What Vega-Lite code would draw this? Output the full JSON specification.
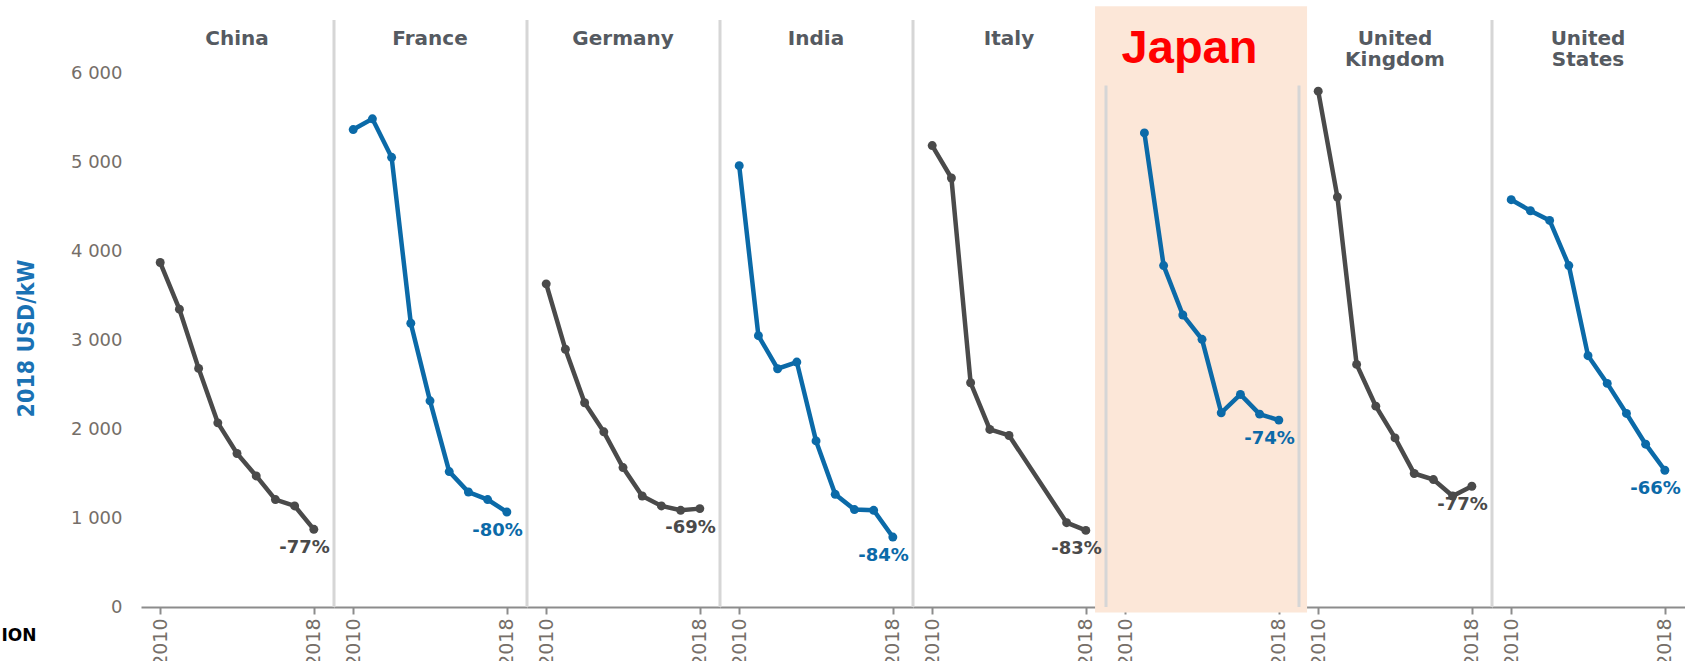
{
  "$schema": "https://vega.github.io/schema/vega-lite/v6.json",
  "padding": {"left": 1, "top": 6, "right": 0, "bottom": 0},
  "background": "white",
  "bounds": "flush",
  "config": {"view": {"stroke": null}, "font": "DejaVu Sans", "facet": {"spacing": 0}},
  "title": {"text": "ION", "orient": "bottom", "anchor": "start", "frame": "bounds", "fontSize": 17, "fontWeight": "bold", "color": "#000000", "font": "DejaVu Sans", "offset": -38, "dx": -14},
  "data": {"values": [
    {"kind": "name", "c": "China", "name": "China"},
    {"kind": "name", "c": "France", "name": "France"},
    {"kind": "name", "c": "Germany", "name": "Germany"},
    {"kind": "name", "c": "India", "name": "India"},
    {"kind": "name", "c": "Italy", "name": "Italy"},
    {"kind": "name", "c": "Japan", "name": "Japan"},
    {"kind": "name", "c": "United Kingdom", "name": "United\nKingdom"},
    {"kind": "name", "c": "United States", "name": "United\nStates"},
    {"kind": "pt", "c": "China", "year": 2010, "value": 3876},
    {"kind": "pt", "c": "China", "year": 2011, "value": 3351},
    {"kind": "pt", "c": "China", "year": 2012, "value": 2685},
    {"kind": "pt", "c": "China", "year": 2013, "value": 2072},
    {"kind": "pt", "c": "China", "year": 2014, "value": 1727},
    {"kind": "pt", "c": "China", "year": 2015, "value": 1475},
    {"kind": "pt", "c": "China", "year": 2016, "value": 1209},
    {"kind": "pt", "c": "China", "year": 2017, "value": 1137},
    {"kind": "pt", "c": "China", "year": 2018, "value": 874, "pct": "-77%"},
    {"kind": "pt", "c": "France", "year": 2010, "value": 5372},
    {"kind": "pt", "c": "France", "year": 2011, "value": 5493},
    {"kind": "pt", "c": "France", "year": 2012, "value": 5060},
    {"kind": "pt", "c": "France", "year": 2013, "value": 3193},
    {"kind": "pt", "c": "France", "year": 2014, "value": 2320},
    {"kind": "pt", "c": "France", "year": 2015, "value": 1524},
    {"kind": "pt", "c": "France", "year": 2016, "value": 1294},
    {"kind": "pt", "c": "France", "year": 2017, "value": 1209},
    {"kind": "pt", "c": "France", "year": 2018, "value": 1069, "pct": "-80%"},
    {"kind": "pt", "c": "Germany", "year": 2010, "value": 3636},
    {"kind": "pt", "c": "Germany", "year": 2011, "value": 2900},
    {"kind": "pt", "c": "Germany", "year": 2012, "value": 2298},
    {"kind": "pt", "c": "Germany", "year": 2013, "value": 1971},
    {"kind": "pt", "c": "Germany", "year": 2014, "value": 1569},
    {"kind": "pt", "c": "Germany", "year": 2015, "value": 1249},
    {"kind": "pt", "c": "Germany", "year": 2016, "value": 1137},
    {"kind": "pt", "c": "Germany", "year": 2017, "value": 1088},
    {"kind": "pt", "c": "Germany", "year": 2018, "value": 1107, "pct": "-69%"},
    {"kind": "pt", "c": "India", "year": 2010, "value": 4966},
    {"kind": "pt", "c": "India", "year": 2011, "value": 3053},
    {"kind": "pt", "c": "India", "year": 2012, "value": 2681},
    {"kind": "pt", "c": "India", "year": 2013, "value": 2756},
    {"kind": "pt", "c": "India", "year": 2014, "value": 1869},
    {"kind": "pt", "c": "India", "year": 2015, "value": 1268},
    {"kind": "pt", "c": "India", "year": 2016, "value": 1096},
    {"kind": "pt", "c": "India", "year": 2017, "value": 1088},
    {"kind": "pt", "c": "India", "year": 2018, "value": 787, "pct": "-84%"},
    {"kind": "pt", "c": "Italy", "year": 2010, "value": 5192},
    {"kind": "pt", "c": "Italy", "year": 2011, "value": 4827},
    {"kind": "pt", "c": "Italy", "year": 2012, "value": 2523},
    {"kind": "pt", "c": "Italy", "year": 2013, "value": 1998},
    {"kind": "pt", "c": "Italy", "year": 2014, "value": 1930},
    {"kind": "pt", "c": "Italy", "year": 2017, "value": 949},
    {"kind": "pt", "c": "Italy", "year": 2018, "value": 862, "pct": "-83%"},
    {"kind": "pt", "c": "Japan", "year": 2011, "value": 5334},
    {"kind": "pt", "c": "Japan", "year": 2012, "value": 3842},
    {"kind": "pt", "c": "Japan", "year": 2013, "value": 3286},
    {"kind": "pt", "c": "Japan", "year": 2014, "value": 3012},
    {"kind": "pt", "c": "Japan", "year": 2015, "value": 2185},
    {"kind": "pt", "c": "Japan", "year": 2016, "value": 2392},
    {"kind": "pt", "c": "Japan", "year": 2017, "value": 2170},
    {"kind": "pt", "c": "Japan", "year": 2018, "value": 2103, "pct": "-74%"},
    {"kind": "pt", "c": "United Kingdom", "year": 2010, "value": 5804},
    {"kind": "pt", "c": "United Kingdom", "year": 2011, "value": 4613},
    {"kind": "pt", "c": "United Kingdom", "year": 2012, "value": 2730},
    {"kind": "pt", "c": "United Kingdom", "year": 2013, "value": 2260},
    {"kind": "pt", "c": "United Kingdom", "year": 2014, "value": 1903},
    {"kind": "pt", "c": "United Kingdom", "year": 2015, "value": 1502},
    {"kind": "pt", "c": "United Kingdom", "year": 2016, "value": 1434},
    {"kind": "pt", "c": "United Kingdom", "year": 2017, "value": 1249},
    {"kind": "pt", "c": "United Kingdom", "year": 2018, "value": 1359, "pct": "-77%"},
    {"kind": "pt", "c": "United States", "year": 2010, "value": 4583},
    {"kind": "pt", "c": "United States", "year": 2011, "value": 4459},
    {"kind": "pt", "c": "United States", "year": 2012, "value": 4350},
    {"kind": "pt", "c": "United States", "year": 2013, "value": 3842},
    {"kind": "pt", "c": "United States", "year": 2014, "value": 2828},
    {"kind": "pt", "c": "United States", "year": 2015, "value": 2516},
    {"kind": "pt", "c": "United States", "year": 2016, "value": 2178},
    {"kind": "pt", "c": "United States", "year": 2017, "value": 1832},
    {"kind": "pt", "c": "United States", "year": 2018, "value": 1539, "pct": "-66%"}
  ]},
  "facet": {"column": {"field": "c", "type": "nominal", "sort": ["China", "France", "Germany", "India", "Italy", "Japan", "United Kingdom", "United States"], "header": {"title": null, "labels": false}}},
  "spacing": 0,
  "resolve": {"scale": {"x": "shared", "y": "shared"}},
  "spec": {
    "width": 193,
    "height": 587,
    "layer": [
      {
        "transform": [{"filter": "datum.kind == 'name' && datum.c == 'Japan'"}],
        "mark": {"type": "rect", "fill": "#fce7d8"},
        "encoding": {
          "x": {"datum": 2009, "type": "quantitative"},
          "x2": {"datum": 2019.05},
          "y": {"datum": -62, "type": "quantitative"},
          "y2": {"datum": 6761}
        }
      },
      {
        "transform": [{"filter": "datum.kind == 'name' && datum.c == 'Italy'"}],
        "mark": {"type": "rect", "fill": "#fce7d8"},
        "encoding": {
          "x": {"datum": 2018.48, "type": "quantitative"},
          "x2": {"datum": 2019.05},
          "y": {"datum": -62, "type": "quantitative"},
          "y2": {"datum": 6761}
        }
      },
      {
        "transform": [{"filter": "datum.kind == 'name' && datum.c == 'United Kingdom'"}],
        "mark": {"type": "rect", "fill": "#fce7d8"},
        "encoding": {
          "x": {"datum": 2009, "type": "quantitative"},
          "x2": {"datum": 2009.42},
          "y": {"datum": -62, "type": "quantitative"},
          "y2": {"datum": 6761}
        }
      },
      {
        "transform": [{"filter": "datum.kind == 'name' && indexof(['China', 'Japan', 'United Kingdom'], datum.c) < 0"}],
        "mark": {"type": "rule", "color": "#d6d6d6", "strokeWidth": 3},
        "encoding": {
          "x": {"datum": 2009, "type": "quantitative"},
          "y": {"datum": 0, "type": "quantitative"},
          "y2": {"datum": 6605}
        }
      },
      {
        "transform": [{"filter": "datum.kind == 'name' && (datum.c == 'Japan' || datum.c == 'United Kingdom')"}],
        "mark": {"type": "rule", "color": "#d6d6d6", "strokeWidth": 3},
        "encoding": {
          "x": {"datum": 2009, "type": "quantitative"},
          "y": {"datum": 0, "type": "quantitative"},
          "y2": {"datum": 5868}
        }
      },
      {
        "transform": [{"filter": "datum.kind == 'pt'"}],
        "mark": {"type": "line", "strokeWidth": 4.5},
        "encoding": {
          "x": {"field": "year", "type": "quantitative", "scale": {"domain": [2009, 2019.05], "nice": false, "zero": false},
            "axis": {"values": [2010, 2018], "format": "d", "labelAngle": -90, "labelFontSize": 19, "labelColor": "#756e68", "labelFont": "DejaVu Sans", "domainColor": "#8c8c8c", "domainWidth": 2, "tickColor": "#8c8c8c", "tickWidth": 2, "tickSize": 7, "labelPadding": 4, "title": null, "grid": false}},
          "y": {"field": "value", "type": "quantitative", "scale": {"domain": [0, 6605], "nice": false},
            "axis": {"values": [0, 1000, 2000, 3000, 4000, 5000, 6000], "labelExpr": "replace(format(datum.value, ','), ',', ' ')", "domain": false, "ticks": false, "labelPadding": 19, "labelFontSize": 18, "labelColor": "#756e68", "labelFont": "DejaVu Sans", "gridColor": "#e6e6e6", "gridWidth": 2, "title": "2018 USD/kW", "titleFont": "DejaVu Sans Condensed", "titleFontSize": 23, "titleFontWeight": "bold", "titleColor": "#1a72b4", "titlePadding": 32, "titleY": 318}},
          "color": {"field": "c", "type": "nominal", "legend": null,
            "scale": {"domain": ["China", "France", "Germany", "India", "Italy", "Japan", "United Kingdom", "United States"], "range": ["#4a4a4a", "#0b6aa8", "#4a4a4a", "#0b6aa8", "#4a4a4a", "#0b6aa8", "#4a4a4a", "#0b6aa8"]}}
        }
      },
      {
        "transform": [{"filter": "datum.kind == 'pt'"}],
        "mark": {"type": "point", "filled": true, "size": 80, "opacity": 1},
        "encoding": {
          "x": {"field": "year", "type": "quantitative"},
          "y": {"field": "value", "type": "quantitative"},
          "color": {"field": "c", "type": "nominal", "legend": null}
        }
      },
      {
        "transform": [{"filter": "isValid(datum.pct)"}],
        "mark": {"type": "text", "align": "right", "baseline": "middle", "dx": 16, "dy": 19, "fontSize": 18, "fontWeight": "bold", "font": "DejaVu Sans"},
        "encoding": {
          "x": {"field": "year", "type": "quantitative"},
          "y": {"field": "value", "type": "quantitative"},
          "text": {"field": "pct"},
          "color": {"field": "c", "type": "nominal", "legend": null}
        }
      },
      {
        "transform": [{"filter": "datum.kind == 'name' && datum.c != 'Japan'"}],
        "mark": {"type": "text", "align": "center", "baseline": "top", "lineBreak": "\n", "lineHeight": 21, "fontSize": 20, "fontWeight": "bold", "font": "DejaVu Sans", "color": "#555a61"},
        "encoding": {
          "x": {"datum": 2014.0, "type": "quantitative"},
          "y": {"datum": 6500, "type": "quantitative"},
          "text": {"field": "name"}
        }
      },
      {
        "transform": [{"filter": "datum.kind == 'name' && datum.c == 'Japan'"}],
        "mark": {"type": "text", "align": "center", "baseline": "alphabetic", "fontSize": 47, "fontWeight": "bold", "font": "Liberation Sans", "color": "#ff0000"},
        "encoding": {
          "x": {"datum": 2013.35, "type": "quantitative"},
          "y": {"datum": 6116, "type": "quantitative"},
          "text": {"field": "name"}
        }
      }
    ]
  }
}
